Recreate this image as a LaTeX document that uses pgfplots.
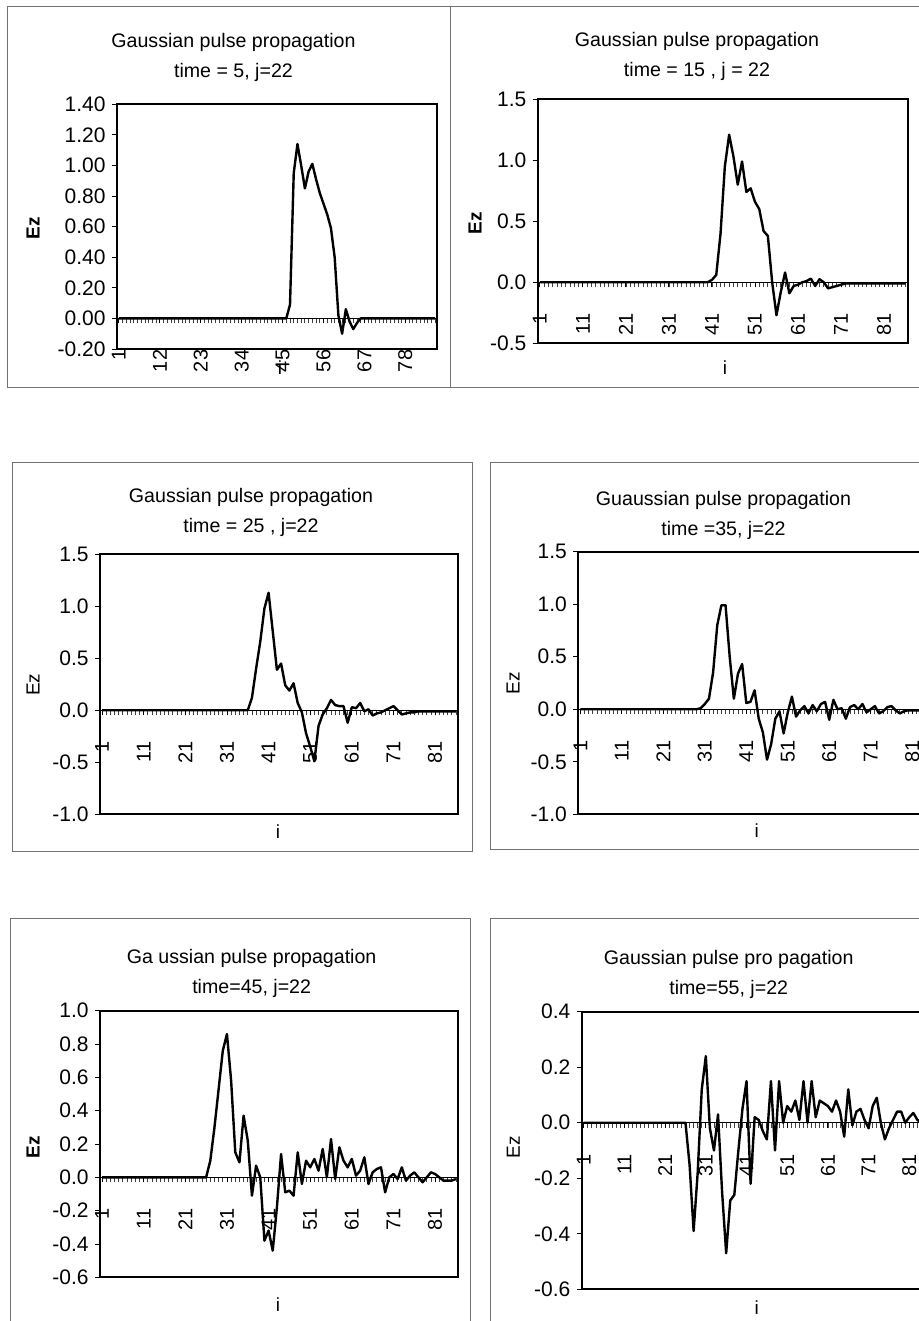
\documentclass[border=0pt]{standalone}
\usepackage{pgfplots}
\pgfplotsset{compat=1.18}
\usepackage{pgfplotstable}
\usepackage{fontspec}
\setmainfont{Liberation Sans}
\newcommand\tfont{\fontsize{9.8}{15}\selectfont}
\newcommand\yfont{\fontsize{10.5}{12}\selectfont}
\newcommand\xfont{\fontsize{10}{11}\selectfont}
\newcommand\lfont{\fontsize{9.5}{11}\selectfont}

\pgfplotstableread[row sep=\\]{i v\\
1 0\\2 0\\3 0\\4 0\\5 0\\6 0\\7 0\\8 0\\9 0\\10 0\\11 0\\12 0\\13 0\\14 0\\15 0\\16 0\\17 0\\18 0\\19 0\\20 0\\
21 0\\22 0\\23 0\\24 0\\25 0\\26 0\\27 0\\28 0\\29 0\\30 0\\31 0\\32 0\\33 0\\34 0\\35 0\\36 0\\37 0\\38 0\\39 0\\40 0\\
41 0\\42 0\\43 0\\44 0\\45 0\\46 0\\47 0.09\\48 0.95\\49 1.14\\50 1.00\\51 0.85\\52 0.96\\53 1.01\\54 0.91\\55 0.82\\
56 0.75\\57 0.68\\58 0.59\\59 0.40\\60 0.02\\61 -0.10\\62 0.06\\63 -0.02\\64 -0.07\\65 -0.03\\66 0\\67 0\\68 0\\69 0\\70 0\\
71 0\\72 0\\73 0\\74 0\\75 0\\76 0\\77 0\\78 0\\79 0\\80 0\\81 0\\82 0\\83 0\\84 0\\85 0\\86 0\\
}\tA

\pgfplotstableread[row sep=\\]{i v\\
1 0\\2 0\\3 0\\4 0\\5 0\\6 0\\7 0\\8 0\\9 0\\10 0\\11 0\\12 0\\13 0\\14 0\\15 0\\16 0\\17 0\\18 0\\19 0\\20 0\\
21 0\\22 0\\23 0\\24 0\\25 0\\26 0\\27 0\\28 0\\29 0\\30 0\\31 0\\32 0\\33 0\\34 0\\35 0\\36 0\\37 0\\38 0\\39 0\\40 0\\
41 0.02\\42 0.06\\43 0.40\\44 0.95\\45 1.21\\46 1.03\\47 0.80\\48 0.99\\49 0.74\\50 0.77\\51 0.66\\52 0.60\\53 0.42\\54 0.38\\55 0.0\\
56 -0.27\\57 -0.08\\58 0.08\\59 -0.09\\60 -0.03\\61 -0.02\\62 0.0\\63 0.01\\64 0.03\\65 -0.03\\66 0.025\\67 0.0\\68 -0.05\\69 -0.04\\70 -0.03\\
71 -0.02\\72 -0.01\\73 -0.01\\74 -0.01\\75 -0.01\\76 -0.01\\77 -0.01\\78 -0.01\\79 -0.01\\80 -0.01\\81 -0.01\\82 -0.01\\83 -0.01\\84 -0.01\\85 -0.01\\86 -0.01\\
}\tB

\pgfplotstableread[row sep=\\]{i v\\
1 0\\2 0\\3 0\\4 0\\5 0\\6 0\\7 0\\8 0\\9 0\\10 0\\11 0\\12 0\\13 0\\14 0\\15 0\\16 0\\17 0\\18 0\\19 0\\20 0\\
21 0\\22 0\\23 0\\24 0\\25 0\\26 0\\27 0\\28 0\\29 0\\30 0\\31 0\\32 0\\33 0\\34 0\\35 0\\36 0\\37 0.12\\38 0.40\\39 0.66\\40 0.98\\
41 1.13\\42 0.76\\43 0.39\\44 0.45\\45 0.24\\46 0.19\\47 0.26\\48 0.07\\49 -0.02\\50 -0.22\\51 -0.35\\52 -0.49\\53 -0.15\\54 -0.04\\55 0.02\\
56 0.10\\57 0.05\\58 0.04\\59 0.04\\60 -0.12\\61 0.03\\62 0.02\\63 0.07\\64 -0.01\\65 0.01\\66 -0.05\\67 -0.03\\68 -0.02\\69 0.0\\70 0.02\\
71 0.04\\72 0.0\\73 -0.04\\74 -0.03\\75 -0.02\\76 -0.02\\77 -0.01\\78 -0.01\\79 -0.01\\80 -0.01\\81 -0.01\\82 -0.01\\83 -0.01\\84 -0.01\\85 -0.01\\86 -0.01\\
}\tC

\pgfplotstableread[row sep=\\]{i v\\
1 0\\2 0\\3 0\\4 0\\5 0\\6 0\\7 0\\8 0\\9 0\\10 0\\11 0\\12 0\\13 0\\14 0\\15 0\\16 0\\17 0\\18 0\\19 0\\20 0\\
21 0\\22 0\\23 0\\24 0\\25 0\\26 0\\27 0\\28 0\\29 0\\30 0.01\\31 0.05\\32 0.10\\33 0.35\\34 0.80\\35 0.99\\36 0.99\\37 0.50\\38 0.10\\39 0.34\\40 0.43\\
41 0.06\\42 0.07\\43 0.18\\44 -0.09\\45 -0.22\\46 -0.48\\47 -0.33\\48 -0.09\\49 -0.02\\50 -0.23\\51 -0.03\\52 0.12\\53 -0.07\\54 -0.01\\55 0.03\\
56 -0.04\\57 0.04\\58 -0.02\\59 0.05\\60 0.07\\61 -0.10\\62 0.09\\63 0.0\\64 0.01\\65 -0.09\\66 0.02\\67 0.04\\68 0.0\\69 0.05\\70 -0.03\\
71 0.0\\72 0.03\\73 -0.04\\74 -0.02\\75 0.02\\76 0.03\\77 -0.01\\78 -0.04\\79 -0.02\\80 -0.01\\81 -0.01\\82 -0.01\\83 -0.01\\84 -0.01\\85 -0.01\\86 -0.01\\
}\tD

\pgfplotstableread[row sep=\\]{i v\\
1 0\\2 0\\3 0\\4 0\\5 0\\6 0\\7 0\\8 0\\9 0\\10 0\\11 0\\12 0\\13 0\\14 0\\15 0\\16 0\\17 0\\18 0\\19 0\\20 0\\
21 0\\22 0\\23 0\\24 0\\25 0\\26 0\\27 0.10\\28 0.30\\29 0.53\\30 0.76\\31 0.86\\32 0.58\\33 0.15\\34 0.09\\35 0.37\\36 0.22\\37 -0.11\\38 0.07\\39 0.0\\40 -0.38\\
41 -0.32\\42 -0.44\\43 -0.18\\44 0.14\\45 -0.09\\46 -0.08\\47 -0.11\\48 0.15\\49 -0.04\\50 0.10\\51 0.06\\52 0.11\\53 0.04\\54 0.17\\55 0.0\\
56 0.23\\57 -0.01\\58 0.18\\59 0.10\\60 0.06\\61 0.11\\62 0.01\\63 0.04\\64 0.12\\65 -0.04\\66 0.03\\67 0.05\\68 0.06\\69 -0.09\\70 0.0\\
71 0.02\\72 -0.01\\73 0.06\\74 -0.02\\75 0.01\\76 0.03\\77 0.0\\78 -0.03\\79 0.0\\80 0.03\\81 0.02\\82 0.0\\83 -0.02\\84 -0.02\\85 -0.02\\86 -0.01\\
}\tE

\pgfplotstableread[row sep=\\]{i v\\
1 0\\2 0\\3 0\\4 0\\5 0\\6 0\\7 0\\8 0\\9 0\\10 0\\11 0\\12 0\\13 0\\14 0\\15 0\\16 0\\17 0\\18 0\\19 0\\20 0\\
21 0\\22 0\\23 0\\24 0\\25 0\\26 0\\27 -0.15\\28 -0.39\\29 -0.18\\30 0.12\\31 0.24\\32 -0.02\\33 -0.10\\34 0.03\\35 -0.25\\36 -0.47\\37 -0.28\\38 -0.26\\39 -0.10\\40 0.05\\
41 0.15\\42 -0.22\\43 0.02\\44 0.01\\45 -0.03\\46 -0.06\\47 0.15\\48 -0.10\\49 0.15\\50 0.0\\51 0.06\\52 0.04\\53 0.08\\54 0.01\\55 0.15\\
56 0.0\\57 0.15\\58 0.02\\59 0.08\\60 0.07\\61 0.06\\62 0.04\\63 0.08\\64 0.04\\65 -0.05\\66 0.12\\67 -0.01\\68 0.04\\69 0.05\\70 0.01\\
71 -0.02\\72 0.06\\73 0.09\\74 0.0\\75 -0.06\\76 -0.02\\77 0.01\\78 0.04\\79 0.04\\80 0.0\\81 0.02\\82 0.035\\83 0.01\\84 0\\85 0\\86 0\\
}\tF

\pgfplotsset{
  ez/.style={
    scale only axis,
    axis x line=middle,
    axis y line=left,
    axis line style={-},
    y axis line style={line width=0.9pt},
    x axis line style={line width=0.5pt},
    xmin=0.5, xmax=86.5,
    xtick={1,11,...,81},
    minor xtick={1,...,86},
    xtick align=outside,
    ytick align=outside,
    major tick length=2.5pt,
    minor tick length=2.5pt,
    tick style={line width=0.45pt, black},
    minor tick style={line width=0.4pt, black!75},
    /pgf/number format/assume math mode=true,
    xticklabel style={rotate=90, anchor=east, inner sep=0pt, font=\xfont},
    yticklabel style={anchor=east, inner sep=0pt, font=\yfont},
    xticklabel shift=13pt,
    yticklabel shift=3pt,
    clip=false,
    after end axis/.append code={
      \draw[line width=0.9pt] (axis description cs:0,0) rectangle (axis description cs:1,1);
    },
  },
  curve/.style={black, line width=1.2pt, line join=round, mark=none},
}

\begin{document}
\begin{tikzpicture}
% chart-area frames
\draw[black!55, line width=0.5pt] (3.5pt,657pt) rectangle (225pt,466.5pt);
\draw[black!55, line width=0.5pt] (225pt,657pt) -- (470pt,657pt);
\draw[black!55, line width=0.5pt] (225pt,466.5pt) -- (470pt,466.5pt);
\draw[black!55, line width=0.5pt] (6pt,429pt) rectangle (236pt,234.5pt);
\draw[black!55, line width=0.5pt] (470pt,429pt) -- (245pt,429pt) -- (245pt,235.5pt) -- (470pt,235.5pt);
\draw[black!55, line width=0.5pt] (5pt,-10pt) -- (5pt,201pt) -- (235pt,201pt) -- (235pt,-10pt);
\draw[black!55, line width=0.5pt] (245pt,-10pt) -- (245pt,201pt) -- (470pt,201pt);

% Panel 1
\begin{axis}[ez, at={(58.5pt,486pt)}, anchor=south west, width=160pt, height=122.35pt,
  ymin=-0.2, ymax=1.4, xtick={1,12,...,78},
  ytick={-0.2,0,0.2,0.4,0.6,0.8,1.0,1.2,1.4},
  yticklabels={-0.20,0.00,0.20,0.40,0.60,0.80,1.00,1.20,1.40}]
\addplot[curve] table[x=i,y=v]{\tA};
\node[font=\tfont, align=center] at (axis description cs:0.364,1.193) {Gaussian pulse propagation\\time = 5, j=22};
\node[font=\lfont\bfseries, rotate=90] at (axis description cs:-0.2625,0.494) {Ez};
\node[font=\lfont] at (axis description cs:0.509,-0.078) {i};
\end{axis}

% Panel 2
\begin{axis}[ez, at={(268.85pt,488.85pt)}, anchor=south west, width=185pt, height=122pt,
  ymin=-0.5, ymax=1.5,
  ytick={-0.5,0,0.5,1.0,1.5},
  yticklabels={-0.5,0.0,0.5,1.0,1.5}]
\addplot[curve] table[x=i,y=v]{\tB};
\node[font=\tfont, align=center] at (axis description cs:0.4305,1.1746) {Gaussian pulse propagation\\time = 15 , j = 22};
\node[font=\lfont\bfseries, rotate=90] at (axis description cs:-0.1695,0.493) {Ez};
\node[font=\lfont] at (axis description cs:0.506,-0.101) {i};
\end{axis}

% Panel 3
\begin{axis}[ez, at={(50pt,253.35pt)}, anchor=south west, width=179pt, height=130pt,
  ymin=-1, ymax=1.5,
  ytick={-1.0,-0.5,0,0.5,1.0,1.5},
  yticklabels={-1.0,-0.5,0.0,0.5,1.0,1.5}]
\addplot[curve] table[x=i,y=v]{\tC};
\node[font=\tfont, align=center] at (axis description cs:0.4218,1.1627) {Gaussian pulse propagation\\time = 25 , j=22};
\node[font=\lfont, rotate=90] at (axis description cs:-0.187,0.498) {Ez};
\node[font=\lfont] at (axis description cs:0.497,-0.068) {i};
\end{axis}

% Panel 4
\begin{axis}[ez, at={(289.15pt,253.35pt)}, anchor=south west, width=178.35pt, height=131.3pt,
  ymin=-1, ymax=1.5,
  ytick={-1.0,-0.5,0,0.5,1.0,1.5},
  yticklabels={-1.0,-0.5,0.0,0.5,1.0,1.5}]
\addplot[curve] table[x=i,y=v]{\tD};
\node[font=\tfont, align=center] at (axis description cs:0.407,1.138) {Guaussian pulse propagation\\time =35, j=22};
\node[font=\lfont, rotate=90] at (axis description cs:-0.183,0.5) {Ez};
\node[font=\lfont] at (axis description cs:0.5,-0.0636) {i};
\end{axis}

% Panel 5
\begin{axis}[ez, at={(50pt,21.85pt)}, anchor=south west, width=179pt, height=133.3pt,
  ymin=-0.6, ymax=1.0,
  ytick={-0.6,-0.4,-0.2,0,0.2,0.4,0.6,0.8,1.0},
  yticklabels={-0.6,-0.4,-0.2,0.0,0.2,0.4,0.6,0.8,1.0}]
\addplot[curve] table[x=i,y=v]{\tE};
\node[font=\tfont, align=center] at (axis description cs:0.4237,1.141) {Ga ussian pulse propagation\\time=45, j=22};
\node[font=\lfont\bfseries, rotate=90] at (axis description cs:-0.187,0.489) {Ez};
\node[font=\lfont] at (axis description cs:0.497,-0.104) {i};
\end{axis}

% Panel 6
\begin{axis}[ez, at={(290.85pt,15.85pt)}, anchor=south west, width=175pt, height=138.8pt,
  ymin=-0.6, ymax=0.4,
  ytick={-0.6,-0.4,-0.2,0,0.2,0.4},
  yticklabels={-0.6,-0.4,-0.2,0.0,0.2,0.4}]
\addplot[curve] table[x=i,y=v]{\tF};
\node[font=\tfont, align=center] at (axis description cs:0.42,1.134) {Gaussian pulse pro pagation\\time=55, j=22};
\node[font=\lfont, rotate=90] at (axis description cs:-0.195,0.5126) {Ez};
\node[font=\lfont] at (axis description cs:0.5,-0.067) {i};
\end{axis}

\pgfresetboundingbox
\path[use as bounding box] (0,0) rectangle (459pt,660.5pt);
\end{tikzpicture}
\end{document}
